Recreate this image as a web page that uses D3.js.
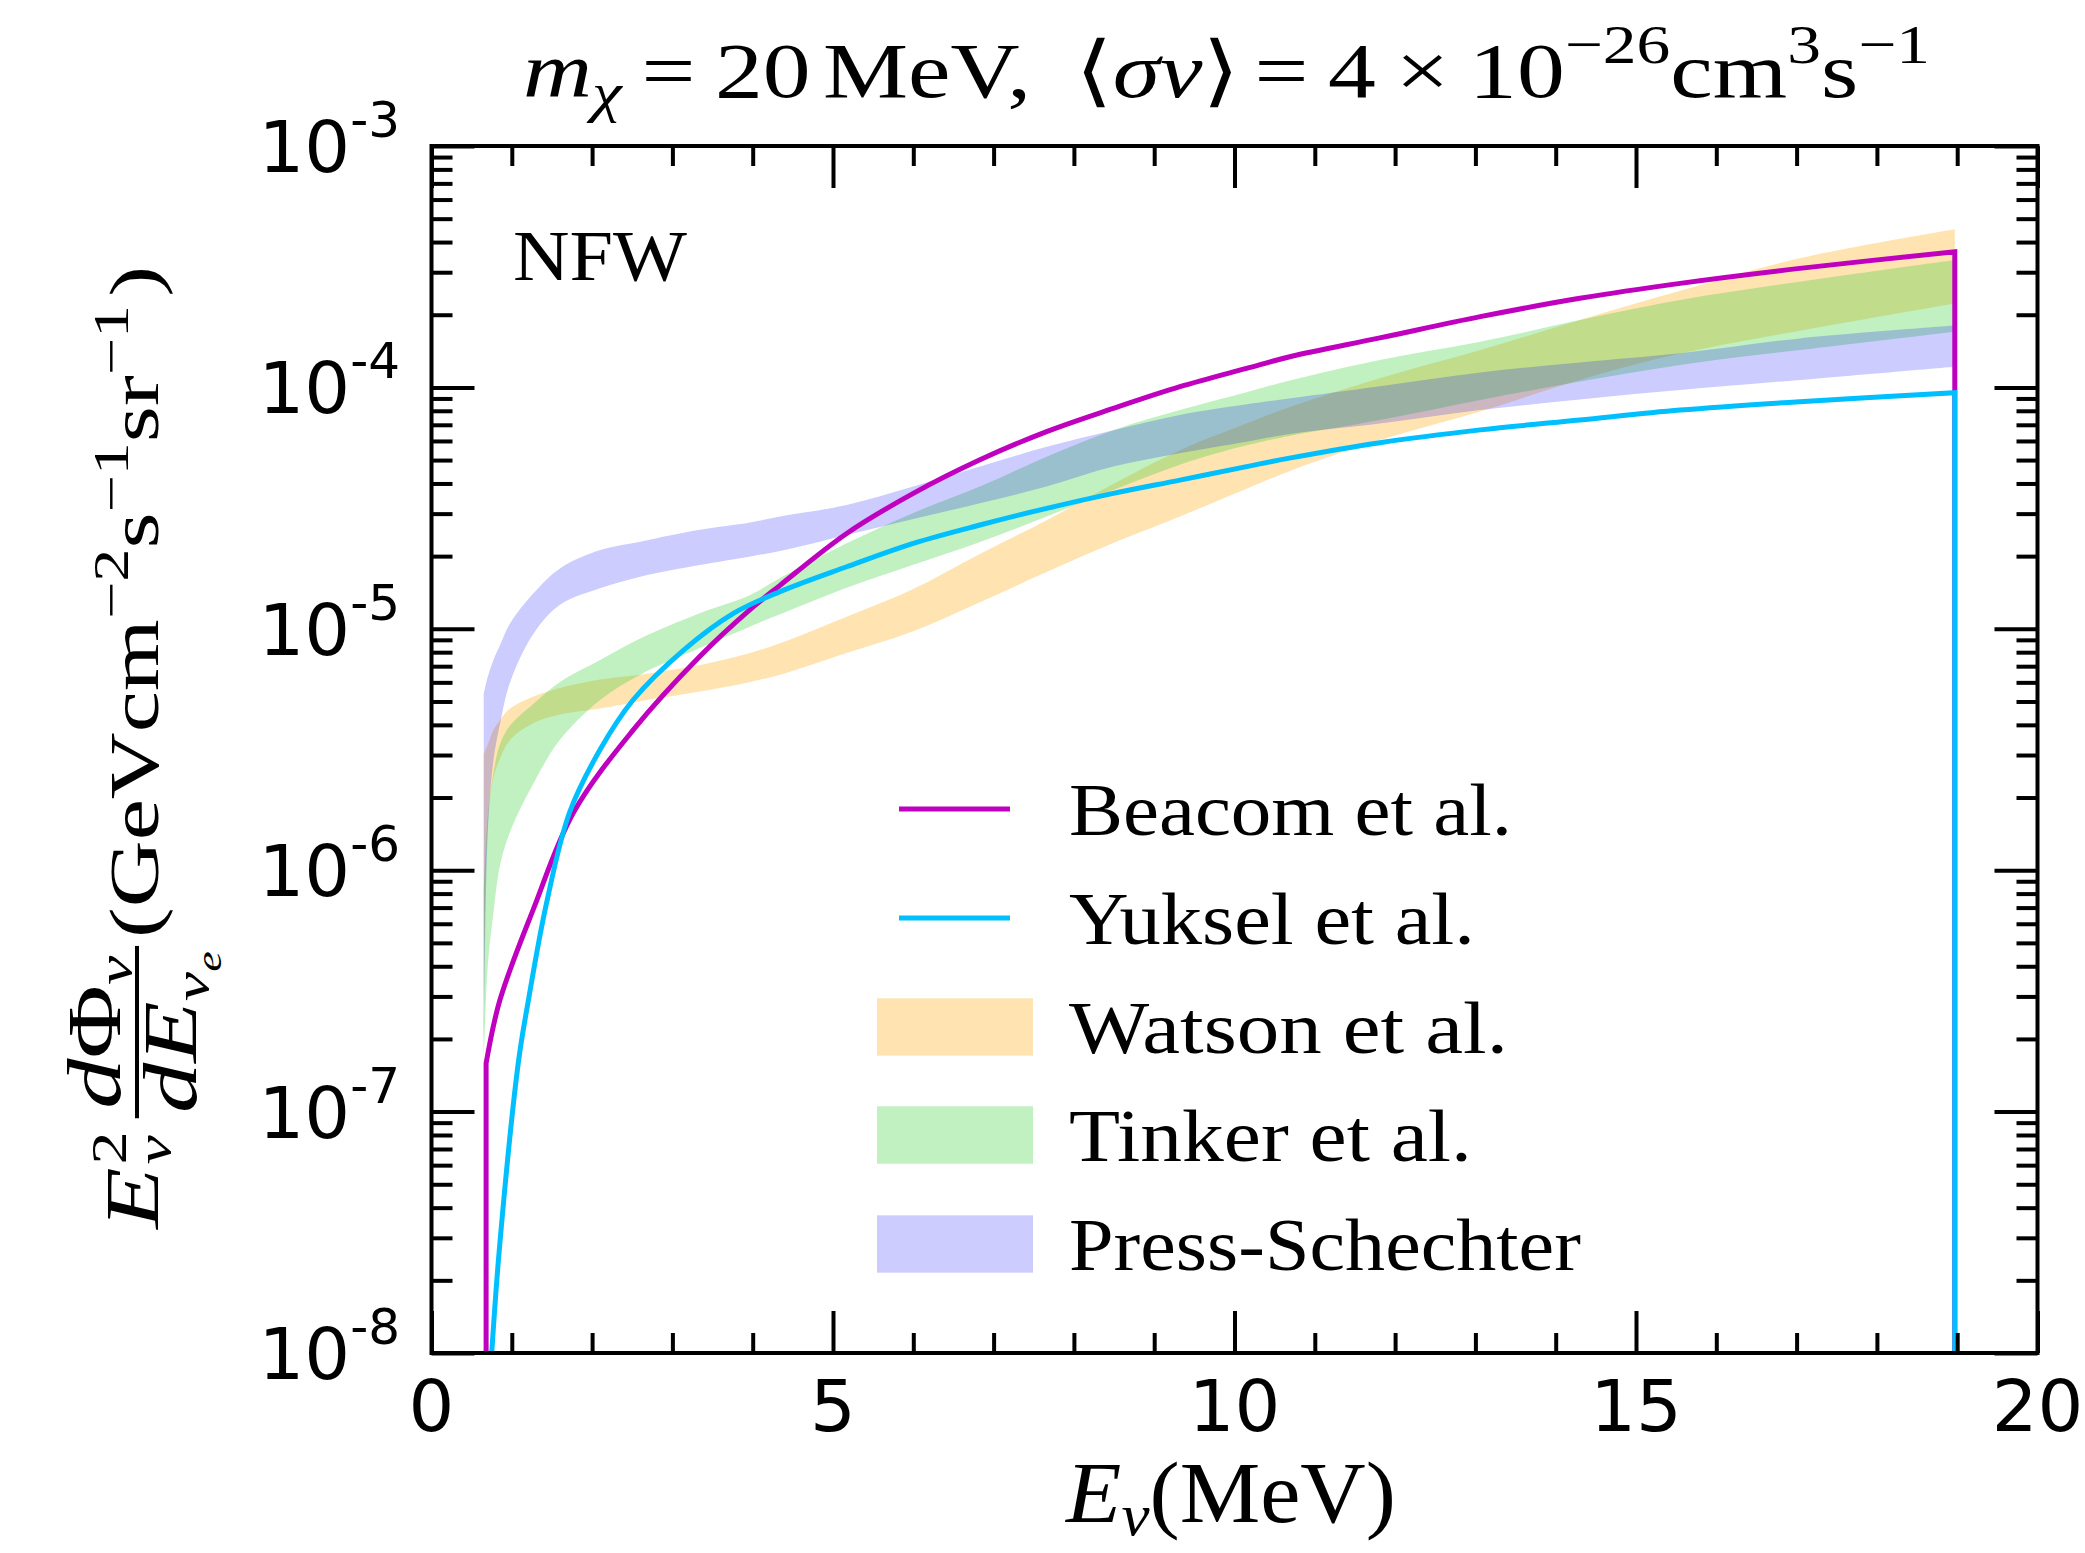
<!DOCTYPE html>
<html>
<head>
<meta charset="utf-8">
<script src="https://cdn.jsdelivr.net/npm/d3@7"></script>
<style>
  html, body { margin: 0; padding: 0; background: #fff; }
  svg { display: block; }
</style>
</head>
<body>
<svg id="chart" width="2085" height="1553"></svg>
<script>
// ---- data: neutrino flux E^2 dPhi/dE (GeV cm^-2 s^-1 sr^-1), stored as log10 ----
const yExponents = [-8, -7, -6, -5, -4, -3];
const xTickLabels = ["0", "5", "10", "15", "20"];
const xMajorTicks = [0, 5, 10, 15, 20];

// Beacom et al. (line); first and last points are the vertical edges of the spectrum
const beacomE   = [0.68, 0.68, 0.85, 1.27, 1.77, 2.51, 3.34, 3.97, 4.34, 5.17, 6.0, 6.83, 7.66, 8.49, 9.32, 10.15, 10.7, 11.81, 13.06, 14.3, 15.55, 17.04, 18.97, 18.97];
const beacomLog = [-8.6, -6.80, -6.54, -6.16, -5.76, -5.42, -5.115, -4.92, -4.82, -4.605, -4.439, -4.30, -4.183, -4.087, -3.997, -3.921, -3.872, -3.795, -3.707, -3.631, -3.569, -3.507, -3.438, -8.6];

// Yuksel et al. (line)
const yukselE   = [0.70, 0.75, 0.845, 1.08, 1.206, 1.43, 1.72, 2.10, 2.51, 3.14, 3.76, 4.34, 5.17, 6.0, 6.83, 7.66, 8.49, 9.32, 10.15, 10.7, 11.81, 13.06, 14.3, 15.55, 17.04, 18.97, 18.97];
const yukselLog = [-8.25, -8.0, -7.57, -6.80, -6.54, -6.14, -5.76, -5.50, -5.295, -5.088, -4.936, -4.846, -4.743, -4.646, -4.570, -4.501, -4.439, -4.384, -4.328, -4.292, -4.229, -4.176, -4.135, -4.094, -4.059, -4.022, -8.6];

// halo mass function bands (lower / upper edge)
const bandE = [0.65, 0.70, 0.77, 0.85, 0.98, 1.27, 1.6, 2.1, 2.6, 3.34, 3.97, 4.34, 5.17, 6.0, 6.83, 7.66, 8.49, 9.32, 10.15, 10.7, 11.81, 13.06, 14.3, 15.55, 17.04, 18.97];
const watsonLo = [-6.80, -5.82, -5.62, -5.54, -5.46, -5.39, -5.355, -5.33, -5.30, -5.26, -5.22, -5.19, -5.10, -5.01, -4.89, -4.765, -4.645, -4.535, -4.42, -4.345, -4.218, -4.10, -3.969, -3.86, -3.765, -3.652];
const watsonHi = [-5.52, -5.48, -5.42, -5.38, -5.33, -5.28, -5.245, -5.21, -5.19, -5.15, -5.10, -5.06, -4.95, -4.835, -4.69, -4.55, -4.40, -4.26, -4.15, -4.08, -3.962, -3.845, -3.721, -3.60, -3.465, -3.345];
const tinkerLo = [-6.80, -6.40, -6.18, -5.985, -5.84, -5.64, -5.46, -5.295, -5.19, -5.08, -4.99, -4.94, -4.83, -4.735, -4.64, -4.535, -4.425, -4.32, -4.24, -4.20, -4.135, -4.052, -3.976, -3.907, -3.845, -3.769];
const tinkerHi = [-6.10, -5.78, -5.60, -5.48, -5.40, -5.31, -5.22, -5.129, -5.04, -4.936, -4.86, -4.79, -4.646, -4.52, -4.411, -4.287, -4.177, -4.094, -4.02, -3.97, -3.886, -3.811, -3.721, -3.638, -3.562, -3.472];
const psLo = [-6.80, -5.85, -5.55, -5.40, -5.22, -5.02, -4.90, -4.832, -4.784, -4.736, -4.70, -4.678, -4.611, -4.545, -4.48, -4.411, -4.328, -4.273, -4.225, -4.193, -4.15, -4.094, -4.05, -4.011, -3.969, -3.914];
const psHi = [-5.27, -5.20, -5.13, -5.07, -4.977, -4.853, -4.75, -4.674, -4.639, -4.59, -4.56, -4.535, -4.487, -4.411, -4.328, -4.246, -4.177, -4.114, -4.07, -4.045, -3.995, -3.938, -3.897, -3.859, -3.797, -3.744];

const legendLabels = ["Beacom et al.", "Yuksel et al.", "Watson et al.", "Tinker et al.", "Press-Schechter"];

// ---- layout ----
const L = 431.5, R = 2037.5, T = 146, B = 1353;
const serif = "'Liberation Serif', 'DejaVu Serif', serif";
const sans = "'DejaVu Sans', sans-serif";

const svg = d3.select("#chart");
svg.append("rect").attr("width", 2085).attr("height", 1553).attr("fill", "#fff");

const x = d3.scaleLinear().domain([0, 20]).range([L, R]);
const y = d3.scaleLog().domain([1e-8, 1e-3]).range([B, T]);

svg.append("defs").append("clipPath").attr("id", "plotClip")
  .append("rect").attr("x", L).attr("y", T).attr("width", R - L).attr("height", B - T);

const plot = svg.append("g").attr("clip-path", "url(#plotClip)");
const smooth = d3.curveCatmullRom.alpha(0.5);

// bands
const bands = [
  { lo: watsonLo, hi: watsonHi, color: "orange", op: 0.3 },
  { lo: tinkerLo, hi: tinkerHi, color: "limegreen", op: 0.3 },
  { lo: psLo, hi: psHi, color: "blue", op: 0.2 }
];
const area = d3.area()
  .x(d => x(d.e))
  .y0(d => y(Math.pow(10, d.lo)))
  .y1(d => y(Math.pow(10, d.hi)))
  .curve(smooth);
bands.forEach(b => {
  const pts = bandE.map((e, i) => ({ e, lo: b.lo[i], hi: b.hi[i] }));
  plot.append("path").attr("d", area(pts))
    .attr("fill", b.color).attr("fill-opacity", b.op).attr("stroke", "none");
});

// lines: vertical edges plus a smooth interior
function spectrumPath(E, V) {
  const pts = E.map((e, i) => [x(e), y(Math.pow(10, V[i]))]);
  const first = pts[0], last = pts[pts.length - 1];
  const inner = pts.slice(1, pts.length - 1);
  const curve = d3.line().curve(smooth)(inner);
  return `M${first[0]},${first[1]}L` + curve.slice(1) + `L${last[0]},${last[1]}`;
}
plot.append("path").attr("d", spectrumPath(beacomE, beacomLog))
  .attr("fill", "none").attr("stroke", "#bf00bf").attr("stroke-width", 5);
plot.append("path").attr("d", spectrumPath(yukselE, yukselLog))
  .attr("fill", "none").attr("stroke", "#00bfff").attr("stroke-width", 5);

// ---- axes (inward ticks on all four sides) ----
const xMinor = d3.range(0, 21).filter(v => v % 5 !== 0);
const yMajor = yExponents.map(k => Math.pow(10, k));
const yMinor = [];
yExponents.slice(0, -1).forEach(k => { for (let m = 2; m <= 9; m++) yMinor.push(m * Math.pow(10, k)); });

function styleAxis(g) {
  g.select(".domain").remove();
  g.selectAll("line").attr("stroke", "#000").attr("stroke-width", 4);
  g.selectAll("text").remove();
}
svg.append("g").attr("transform", `translate(0,${B})`).call(d3.axisBottom(x).tickValues(xMajorTicks).tickSize(-42)).call(styleAxis);
svg.append("g").attr("transform", `translate(0,${B})`).call(d3.axisBottom(x).tickValues(xMinor).tickSize(-20)).call(styleAxis);
svg.append("g").attr("transform", `translate(0,${T})`).call(d3.axisTop(x).tickValues(xMajorTicks).tickSize(-42)).call(styleAxis);
svg.append("g").attr("transform", `translate(0,${T})`).call(d3.axisTop(x).tickValues(xMinor).tickSize(-20)).call(styleAxis);
svg.append("g").attr("transform", `translate(${L},0)`).call(d3.axisLeft(y).tickValues(yMajor).tickSize(-43)).call(styleAxis);
svg.append("g").attr("transform", `translate(${L},0)`).call(d3.axisLeft(y).tickValues(yMinor).tickSize(-21)).call(styleAxis);
svg.append("g").attr("transform", `translate(${R},0)`).call(d3.axisRight(y).tickValues(yMajor).tickSize(-43)).call(styleAxis);
svg.append("g").attr("transform", `translate(${R},0)`).call(d3.axisRight(y).tickValues(yMinor).tickSize(-21)).call(styleAxis);

svg.append("rect").attr("x", L).attr("y", T).attr("width", R - L).attr("height", B - T)
  .attr("fill", "none").attr("stroke", "#000").attr("stroke-width", 4);

// tick labels
xMajorTicks.forEach((v, i) => {
  svg.append("text").attr("x", x(v)).attr("y", B + 78)
    .attr("text-anchor", "middle").attr("font-family", sans).attr("font-size", 72)
    .text(xTickLabels[i]);
});
yExponents.forEach(k => {
  const t = svg.append("text").attr("x", 400).attr("y", y(Math.pow(10, k)) + 26)
    .attr("text-anchor", "end").attr("font-family", sans).attr("font-size", 72);
  t.append("tspan").text("10");
  t.append("tspan").attr("font-size", 50).attr("dy", -35).text(String(k));
});

// ---- text helpers ----
function run(parent, pieces, base) {
  let cx = 0;
  pieces.forEach(p => {
    if (p.gap) { cx += p.gap; return; }
    const t = parent.append("text")
      .attr("x", cx + (p.dx || 0)).attr("y", base + (p.dy || 0))
      .attr("font-family", p.font || serif)
      .attr("font-size", p.size)
      .attr("font-style", p.it ? "italic" : "normal")
      .text(p.t);
    if (!p.stack) cx += t.node().getComputedTextLength() + (p.dx || 0);
  });
  return cx;
}
function fitH(g, x0, width) {
  const bb = g.node().getBBox();
  const s = width / bb.width;
  g.attr("transform", `translate(${x0},0) scale(${s},1) translate(${-bb.x},0)`);
}

// title
const title = svg.append("g");
run(title, [
  { t: "m", it: true, size: 78 },
  { t: "χ", it: true, size: 55, dy: 14 },
  { gap: 16 }, { t: "=", size: 78 }, { gap: 16 },
  { t: "20", size: 78 }, { gap: 10 },
  { t: "MeV,", size: 78 }, { gap: 36 },
  { t: "⟨", size: 78 },
  { t: "σv", it: true, size: 78 },
  { t: "⟩", size: 78 },
  { gap: 12 }, { t: "=", size: 78 }, { gap: 16 },
  { t: "4", size: 78 }, { gap: 16 },
  { t: "×", size: 78 }, { gap: 16 },
  { t: "10", size: 78 },
  { t: "−26", size: 55, dy: -34 },
  { t: "cm", size: 78 },
  { t: "3", size: 55, dy: -34 },
  { t: "s", size: 78 },
  { t: "−1", size: 55, dy: -34 }
], 97);
fitH(title, 523, 1407);

// NFW tag
const nfw = svg.append("g");
run(nfw, [{ t: "NFW", size: 72 }], 280);
fitH(nfw, 513, 174);

// x label
const xl = svg.append("g");
run(xl, [
  { t: "E", it: true, size: 86 },
  { t: "ν", it: true, size: 60, dy: 13 },
  { t: "(MeV)", size: 86 }
], 1522);
fitH(xl, 1064, 332);

// y label (built horizontally, then rotated)
const ylOuter = svg.append("g");
const yl = ylOuter.append("g");
{
  const F = 70, FB = 76, S = 50;
  let cx = 0;
  const e = yl.append("text").attr("x", 0).attr("y", 0).attr("font-family", serif)
    .attr("font-size", FB).attr("font-style", "italic").text("E");
  cx = e.node().getComputedTextLength() + 2;
  yl.append("text").attr("x", cx).attr("y", -32).attr("font-family", serif).attr("font-size", S).text("2");
  const nu = yl.append("text").attr("x", cx).attr("y", 13).attr("font-family", serif)
    .attr("font-size", S).attr("font-style", "italic").text("ν");
  cx += Math.max(nu.node().getComputedTextLength(), 25) + 10;

  // fraction dΦ_ν / dE_νe
  const num = yl.append("g");
  const nW = run(num, [
    { t: "d", it: true, size: FB },
    { t: "Φ", size: FB },
    { t: "ν", it: true, size: S, dy: 12 }
  ], -38);
  const den = yl.append("g");
  const dW = run(den, [
    { t: "d", it: true, size: FB },
    { t: "E", it: true, size: FB },
    { t: "ν", it: true, size: S, dy: 13 },
    { t: "e", it: true, size: 35, dy: 25 }
  ], 38);
  const w = Math.max(nW, dW) + 8;
  num.attr("transform", `translate(${cx + (w - nW) / 2},0)`);
  den.attr("transform", `translate(${cx + (w - dW) / 2},0)`);
  yl.append("line").attr("x1", cx).attr("x2", cx + w).attr("y1", -21).attr("y2", -21)
    .attr("stroke", "#000").attr("stroke-width", 4);
  cx += w + 6;

  const rest = yl.append("g").attr("transform", `translate(${cx},0)`);
  run(rest, [
    { t: "(GeVcm", size: F },
    { t: "−2", size: S, dy: -30 },
    { t: "s", size: F },
    { t: "−1", size: S, dy: -30 },
    { t: "sr", size: F },
    { t: "−1", size: S, dy: -30 },
    { t: ")", size: F, dx: 6 }
  ], 0);
}
{
  const bb = yl.node().getBBox();
  const s = 964 / bb.width;
  yl.attr("transform", `scale(${s},1) translate(${-bb.x},0)`);
  ylOuter.attr("transform", `translate(158,1230) rotate(-90)`);
}

// ---- legend ----
const rowY = [809, 918, 1027, 1135, 1244];
const labelW = [443, 406, 439, 403, 512];
const lineCols = ["#bf00bf", "#00bfff"];
const patchCols = [["orange", 0.3], ["limegreen", 0.3], ["blue", 0.2]];
legendLabels.forEach((lab, i) => {
  const cy = rowY[i];
  if (i < 2) {
    svg.append("line").attr("x1", 899).attr("x2", 1010).attr("y1", cy).attr("y2", cy)
      .attr("stroke", lineCols[i]).attr("stroke-width", 5);
  } else {
    const [c, op] = patchCols[i - 2];
    svg.append("rect").attr("x", 877).attr("y", cy - 28.7).attr("width", 156).attr("height", 57.4)
      .attr("fill", c).attr("fill-opacity", op);
  }
  const g = svg.append("g");
  run(g, [{ t: lab, size: 75 }], cy + 26.5);
  fitH(g, 1069, labelW[i]);
});
</script>
</body>
</html>
